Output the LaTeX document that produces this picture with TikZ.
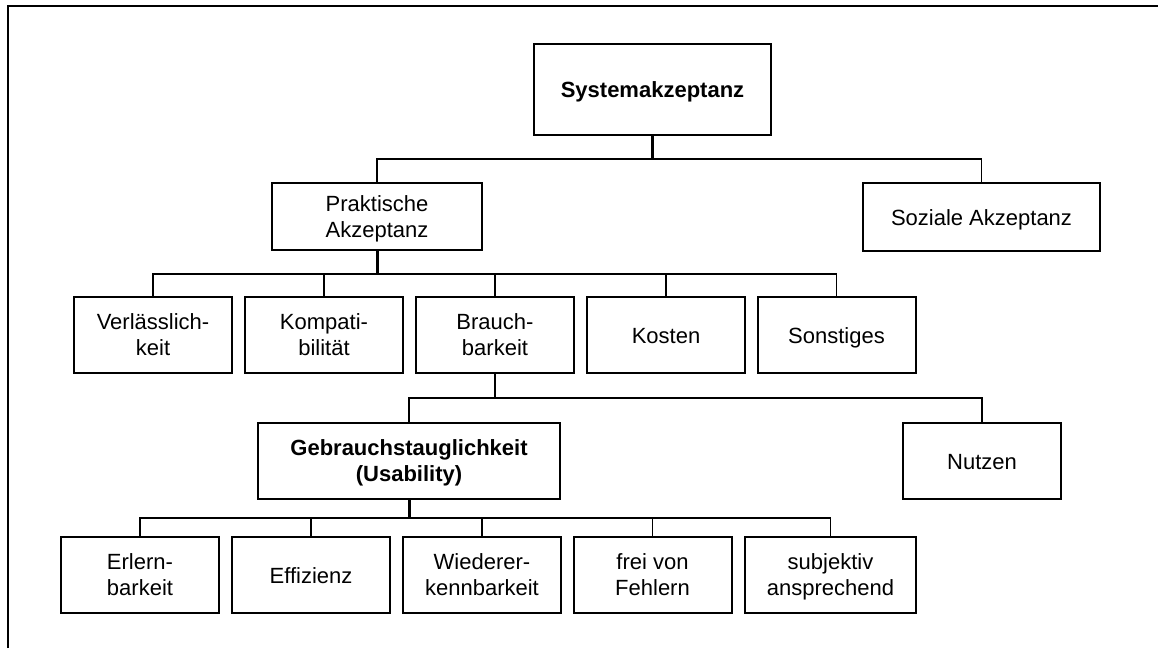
\documentclass[tikz,border=0pt]{standalone}
\usepackage{fontspec}
\setmainfont{Liberation Sans}
% hide the depth of a line so that descenders do not shift the text
\newcommand\nodp[1]{\raisebox{0pt}[\height][0pt]{#1}}
\begin{document}
\begin{tikzpicture}[x=1pt,y=-1pt,
  box/.style={draw,line width=2pt,minimum height=76pt,minimum width=158pt,
    inner sep=0pt,align=center,font=\fontsize{22}{26}\selectfont},
  oneline/.style={text height=16pt,text depth=0pt},
  bus/.style={line width=1.6pt},
  trunk/.style={line width=3pt}]
\useasboundingbox (0,0) rectangle (1158,648);
% outer frame
\draw[line width=1.6pt] (8,648) -- (8,6) -- (1158,6);

% level 1 and 2
\node[box,oneline,minimum width=237pt,minimum height=91pt,font=\fontsize{22}{26}\selectfont\bfseries] (sys) at (652.5,89.5) {Systemakzeptanz};
\node[box,minimum width=210pt,minimum height=67pt] (prak) at (377,216.5) {Praktische\\\nodp{Akzeptanz}};
\node[box,oneline,minimum width=237pt,minimum height=68pt] (soz) at (981.5,217) {Soziale Akzeptanz};

% level 3
\node[box] (verl) at (153,335) {Verlässlich-\\keit};
\node[box] (komp) at (324,335) {Kompati-\\bilität};
\node[box] (brau) at (495,335) {Brauch-\\barkeit};
\node[box,oneline] (kost) at (666,335) {Kosten};
\node[box,oneline] (sons) at (836.5,335) {Sonstiges};

% level 4
\node[box,minimum width=302pt,font=\fontsize{22}{26}\selectfont\bfseries] (gebr) at (409,461) {Gebrauchstauglichkeit\\\nodp{(Usability)}};
\node[box,oneline] (nutz) at (982,461) {Nutzen};

% level 5
\node[box] (erl) at (140,575) {Erlern-\\barkeit};
\node[box,oneline] (eff) at (311,575) {Effizienz};
\node[box] (wie) at (482,575) {Wiederer-\\kennbarkeit};
\node[box] (frei) at (652.5,575) {frei von\\Fehlern};
\node[box,minimum width=171pt] (subj) at (830.5,575) {subjektiv\\\nodp{ansprechend}};

% bus levels
\coordinate (b1) at (0,159);
\coordinate (b2) at (0,274);
\coordinate (b3) at (0,398);
\coordinate (b4) at (0,518);

% connectors
\draw[trunk] (sys.south) -- (sys.south |- b1);
\draw[bus] (prak.north) -- (prak.north |- b1) -- (soz.north |- b1) -- (soz.north);

\draw[trunk] (prak.south) -- (prak.south |- b2);
\draw[bus] (verl.north) -- (verl.north |- b2) -- (sons.north |- b2) -- (sons.north);
\draw[bus] (komp.north) -- (komp.north |- b2);
\draw[bus] (brau.north) -- (brau.north |- b2);
\draw[bus] (kost.north) -- (kost.north |- b2);

\draw[bus] (brau.south) -- (brau.south |- b3);
\draw[bus] (gebr.north) -- (gebr.north |- b3) -- (nutz.north |- b3) -- (nutz.north);

\draw[trunk] (gebr.south) -- (gebr.south |- b4);
\draw[bus] (erl.north) -- (erl.north |- b4) -- (subj.north |- b4) -- (subj.north);
\draw[bus] (eff.north) -- (eff.north |- b4);
\draw[bus] (wie.north) -- (wie.north |- b4);
\draw[bus] (frei.north) -- (frei.north |- b4);
\end{tikzpicture}
\end{document}
